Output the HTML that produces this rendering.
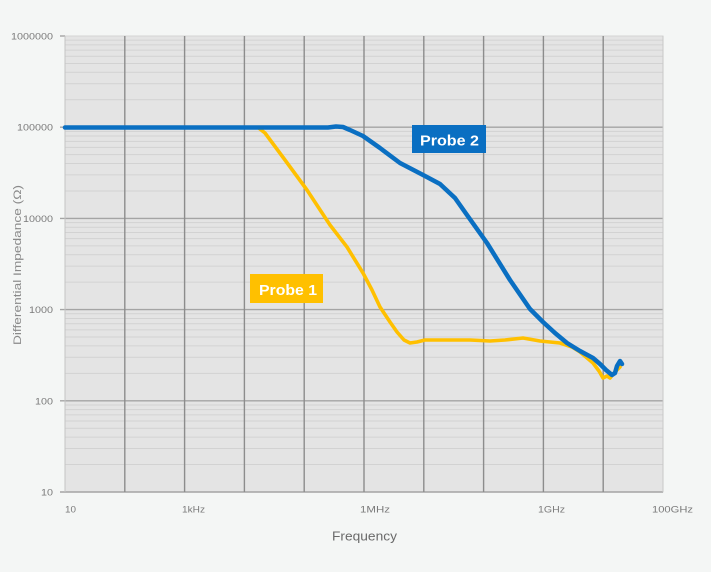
<!DOCTYPE html>
<html><head><meta charset="utf-8"><style>
html,body{margin:0;padding:0;background:#f4f6f5;}
svg{display:block;}
text{font-family:"Liberation Sans",sans-serif;}
</style></head><body>
<svg width="711" height="572" viewBox="0 0 711 572" xmlns="http://www.w3.org/2000/svg">
<rect x="0" y="0" width="711" height="572" fill="#f4f6f5"/>
<rect x="65" y="36" width="598" height="456" fill="#e4e4e4" stroke="#d4d4d4" stroke-width="1"/>
<path fill="none" stroke="#d2d2d2" stroke-width="1" d="
M65 99.75H663M65 83.69H663M65 72.29H663M65 63.45H663M65 56.23H663M65 50.13H663M65 44.84H663M65 40.17H663
M65 190.95H663M65 174.89H663M65 163.49H663M65 154.65H663M65 147.43H663M65 141.33H663M65 136.04H663M65 131.37H663
M65 282.15H663M65 266.09H663M65 254.69H663M65 245.85H663M65 238.63H663M65 232.53H663M65 227.24H663M65 222.57H663
M65 373.35H663M65 357.29H663M65 345.89H663M65 337.05H663M65 329.83H663M65 323.73H663M65 318.44H663M65 313.77H663
M65 464.55H663M65 448.49H663M65 437.09H663M65 428.25H663M65 421.03H663M65 414.93H663M65 409.64H663M65 404.97H663"/>
<g stroke="#a4a4a4" stroke-width="1.4">
<line x1="60" y1="127.2" x2="663" y2="127.2"/>
<line x1="60" y1="218.4" x2="663" y2="218.4"/>
<line x1="60" y1="309.6" x2="663" y2="309.6"/>
<line x1="60" y1="400.8" x2="663" y2="400.8"/>
<line x1="60" y1="492" x2="663" y2="492"/>
<line x1="60" y1="36" x2="65" y2="36"/>
</g>
<g stroke="#8c8c8c" stroke-width="1.4">
<line x1="124.8" y1="36" x2="124.8" y2="492"/>
<line x1="184.6" y1="36" x2="184.6" y2="492"/>
<line x1="244.4" y1="36" x2="244.4" y2="492"/>
<line x1="304.2" y1="36" x2="304.2" y2="492"/>
<line x1="364" y1="36" x2="364" y2="492"/>
<line x1="423.8" y1="36" x2="423.8" y2="492"/>
<line x1="483.6" y1="36" x2="483.6" y2="492"/>
<line x1="543.4" y1="36" x2="543.4" y2="492"/>
<line x1="603.2" y1="36" x2="603.2" y2="492"/>
</g>
<line x1="65" y1="36" x2="65" y2="492" stroke="#c4c4c4" stroke-width="1"/>
<line x1="663" y1="36" x2="663" y2="492" stroke="#c8c8c8" stroke-width="1"/>

<!-- Probe 1 (yellow) -->
<polyline fill="none" stroke="#ffc000" stroke-width="3.6" stroke-linejoin="round" stroke-linecap="round"
points="65,127.5 258,127.5 265,133 285,160 307,190 330,225 347,247 363,273 372,290 380,307 390,322 397,332 404,340 410,343 417,342 425,340 440,340 470,340 490,341 505,340 523,338 540,341 560,343 572,347 580,352 593,363 599,371 603,378 607,376 610,378 613,374 620,367"/>
<!-- Probe 2 (blue) -->
<polyline fill="none" stroke="#0a6fc2" stroke-width="4.5" stroke-linejoin="round" stroke-linecap="round"
points="65,127.5 328,127.5 336,126.5 343,127 350,130 363,136 380,148 400,163 425,176 440,184 455,198 467,215 487,243 510,280 530,309 543,322 555,333 567,343 580,351 593,358 600,364 606,370 612,375 615,373 617,366 620,361 622,364"/>

<rect x="412" y="125" width="74" height="28" fill="#0a6fc2"/>
<text x="420" y="145.5" fill="#ffffff" font-size="15" font-weight="bold" textLength="59" lengthAdjust="spacingAndGlyphs">Probe 2</text>
<rect x="250" y="274" width="73" height="29" fill="#ffc000"/>
<text x="259" y="295" fill="#ffffff" font-size="15" font-weight="bold" textLength="58" lengthAdjust="spacingAndGlyphs">Probe 1</text>

<g fill="#7a7a7a" font-size="9.5">
<text x="11" y="39.5" textLength="42" lengthAdjust="spacingAndGlyphs">1000000</text>
<text x="17" y="130.7" textLength="36" lengthAdjust="spacingAndGlyphs">100000</text>
<text x="23" y="221.9" textLength="30" lengthAdjust="spacingAndGlyphs">10000</text>
<text x="29" y="313.1" textLength="24" lengthAdjust="spacingAndGlyphs">1000</text>
<text x="35" y="404.3" textLength="18" lengthAdjust="spacingAndGlyphs">100</text>
<text x="41" y="495.5" textLength="12" lengthAdjust="spacingAndGlyphs">10</text>
<text x="65" y="512.5" textLength="11" lengthAdjust="spacingAndGlyphs">10</text>
<text x="182" y="512.5" textLength="23" lengthAdjust="spacingAndGlyphs">1kHz</text>
<text x="360" y="512.5" textLength="30" lengthAdjust="spacingAndGlyphs">1MHz</text>
<text x="538" y="512.5" textLength="27" lengthAdjust="spacingAndGlyphs">1GHz</text>
<text x="652" y="512.5" textLength="41" lengthAdjust="spacingAndGlyphs">100GHz</text>
</g>
<text x="332" y="540.5" fill="#6a6a6a" font-size="12.5" textLength="65" lengthAdjust="spacingAndGlyphs">Frequency</text>
<text transform="translate(21,345) rotate(-90)" x="0" y="0" fill="#8a8a8a" font-size="11" textLength="160" lengthAdjust="spacingAndGlyphs">Differential Impedance (Ω)</text>
</svg>
</body></html>
